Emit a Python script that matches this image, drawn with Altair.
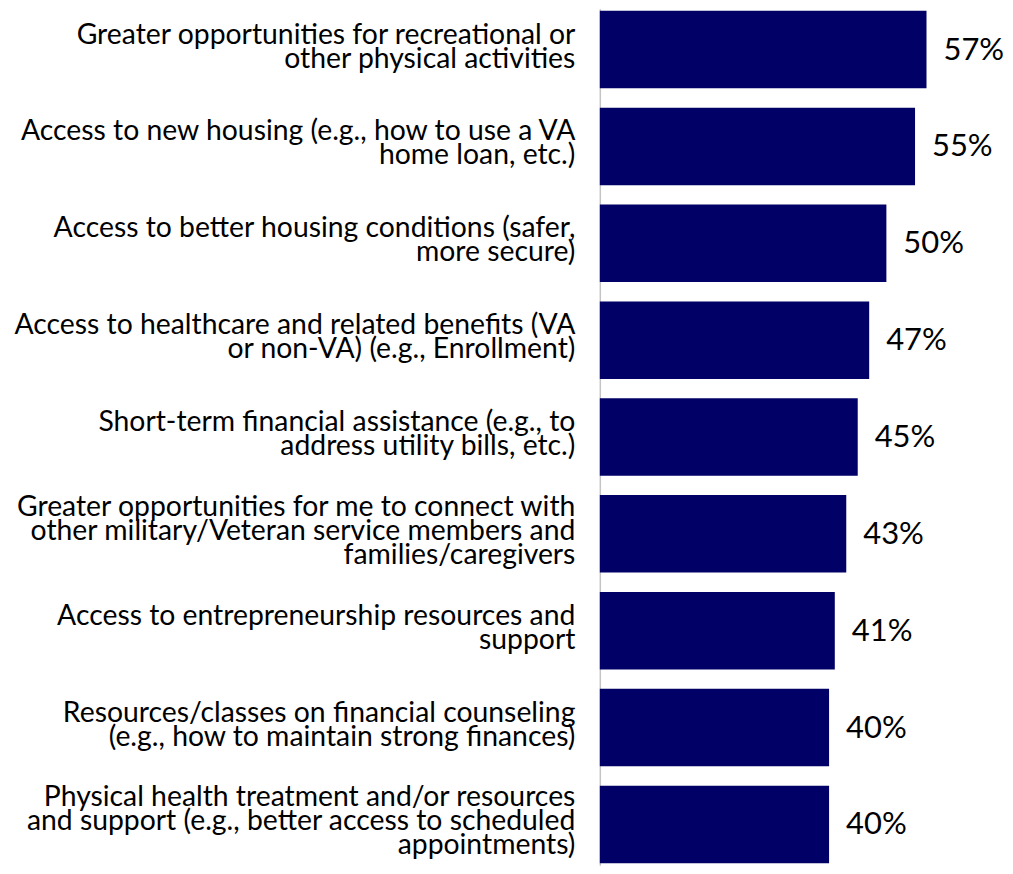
import altair as alt
import pandas as pd

categories = [
    "Greater opportunities for recreational or|other physical activities",
    "Access to new housing (e.g., how to use a VA|home loan, etc.)",
    "Access to better housing conditions (safer,|more secure)",
    "Access to healthcare and related benefits (VA|or non-VA) (e.g., Enrollment)",
    "Short-term financial assistance (e.g., to|address utility bills, etc.)",
    "Greater opportunities for me to connect with|other military/Veteran service members and|families/caregivers",
    "Access to entrepreneurship resources and|support",
    "Resources/classes on financial counseling|(e.g., how to maintain strong finances)",
    "Physical health treatment and/or resources|and support (e.g., better access to scheduled|appointments)",
]
values = [57, 55, 50, 47, 45, 43, 41, 40, 40]
value_labels = ["57%", "55%", "50%", "47%", "45%", "43%", "41%", "40%", "40%"]

df = pd.DataFrame({"cat": categories, "val": values, "lab": value_labels})

LH = 24

y_enc = alt.Y(
    "cat:N",
    sort=categories,
    title=None,
    scale=alt.Scale(paddingInner=0.2, paddingOuter=0.02),
    axis=alt.Axis(
        labelExpr="split(datum.label, '|')",
        labelFont="Lato",
        labelFontSize=28.4,
        labelLineHeight=LH,
        labelColor="#000000",
        labelLimit=700,
        labelPadding=25,
        labelOffset={
            "condition": {"test": "length(split(datum.label, '|')) == 3", "value": -LH - 3},
            "value": -LH / 2 - 3,
        },
        ticks=False,
        domainColor="#c4c4c4",
        domainWidth=1.5,
        grid=False,
    ),
)
x_enc = alt.X("val:Q", scale=alt.Scale(domain=[0, 70]), axis=None)

bars = alt.Chart(df).mark_bar(color="#000066").encode(x=x_enc, y=y_enc)
text = alt.Chart(df).mark_text(
    align="left", baseline="middle", dx=17, dy=1, font="Lato", fontSize=31, color="#000000"
).encode(x=x_enc, y=alt.Y("cat:N", sort=categories), text="lab:N")

chart = (
    alt.layer(bars, text)
    .properties(
        width=402,
        height=858,
        autosize=alt.AutoSizeParams(type="none"),
        padding={"left": 593, "top": 0, "right": 4, "bottom": 0},
    )
    .configure_view(stroke=None)
)

chart.save("out.html", embed_options={"renderer": "svg", "actions": False})
